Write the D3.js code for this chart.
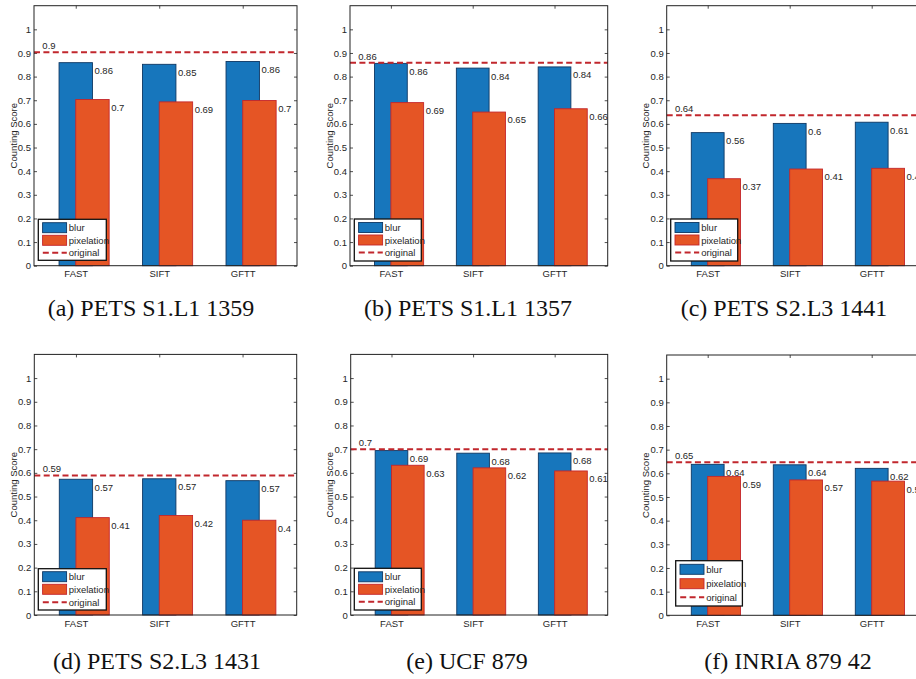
<!DOCTYPE html>
<html>
<head>
<meta charset="utf-8">
<script src="https://cdn.jsdelivr.net/npm/d3@7"></script>
<style>
  html, body { margin: 0; padding: 0; background: #fff; }
  svg { display: block; }
</style>
</head>
<body>
<div id="chart"></div>
<script>
// ---------------- DATA ----------------
const categories = ["FAST", "SIFT", "GFTT"];
const panelCaptions = [
  "(a) PETS S1.L1 1359",
  "(b) PETS S1.L1 1357",
  "(c) PETS S2.L3 1441",
  "(d) PETS S2.L3 1431",
  "(e) UCF 879",
  "(f) INRIA 879 42"
];
const blurValues = [
  [0.859, 0.852, 0.864],
  [0.856, 0.836, 0.841],
  [0.563, 0.602, 0.607],
  [0.573, 0.575, 0.567],
  [0.694, 0.683, 0.684],
  [0.638, 0.636, 0.621]
];
const pixelationValues = [
  [0.703, 0.693, 0.699],
  [0.690, 0.650, 0.664],
  [0.368, 0.409, 0.412],
  [0.411, 0.420, 0.400],
  [0.632, 0.621, 0.608],
  [0.587, 0.572, 0.567]
];
const originalValues = [0.903, 0.859, 0.637, 0.589, 0.700, 0.647];
const yTicks = [0, 0.1, 0.2, 0.3, 0.4, 0.5, 0.6, 0.7, 0.8, 0.9, 1];
const seriesNames = ["blur", "pixelation", "original"];
const yLabel = "Counting Score";

// ---------------- LAYOUT (positions only) ----------------
const W = 916, H = 679;
const panels = [
  { l: 34,    r: 297,   t: 5.7,   b: 265.7, lx: 38.3,  ly: 219.3, lw: 68, lh: 41, rows: [8.4, 21, 33.5], cx: 151, cy: 316 },
  { l: 350,   r: 607.7, t: 5.7,   b: 265.7, lx: 354.3, ly: 219,   lw: 67, lh: 42, rows: [8.5, 21, 33.5], cx: 468, cy: 316 },
  { l: 666.7, r: 925,   t: 5.7,   b: 265.7, lx: 670.7, ly: 219,   lw: 67, lh: 42, rows: [8.5, 21, 33.5], cx: 784, cy: 316 },
  { l: 34.3,  r: 296.7, t: 354.4, b: 615,   lx: 38.3,  ly: 568.7, lw: 68, lh: 41.3, rows: [8, 20.6, 33.6], cx: 157, cy: 669 },
  { l: 350.7, r: 607.7, t: 354.4, b: 615,   lx: 354.3, ly: 568.3, lw: 67, lh: 41.7, rows: [8.5, 21, 33.5], cx: 467, cy: 669 },
  { l: 666.7, r: 925,   t: 355,   b: 615.3, lx: 675.7, ly: 560.7, lw: 66.7, lh: 45.3, rows: [8.6, 23, 36.6], cx: 788, cy: 669 }
];

const BLUE = "#1776bc", BLUE_EDGE = "#0d3763";
const ORANGE = "#e55525", ORANGE_EDGE = "#c4262b";
const RED = "#c1272d";
const TXT = "#262626";
const SANS = "'Liberation Sans Narrow', 'Liberation Sans', Arial, sans-serif";
const SERIF = "'Liberation Serif', 'Times New Roman', serif";
const FS = 9.5;
const fmt = v => String(+v.toFixed(2));

const svg = d3.select("#chart").append("svg")
  .attr("width", W).attr("height", H)
  .attr("viewBox", `0 0 ${W} ${H}`);
svg.append("rect").attr("width", W).attr("height", H).attr("fill", "#fff");

panels.forEach((p, i) => {
  const x = d3.scaleLinear().domain([0.5, 3.65]).range([p.l, p.r]);
  const y = d3.scaleLinear().domain([0, 1.1]).range([p.b, p.t]);
  const g = svg.append("g");
  const barW = x(1.4) - x(1);

  const styleAxis = sel => {
    sel.select(".domain").remove();
    sel.selectAll("line").attr("stroke", "#222").attr("stroke-width", 0.8);
    sel.selectAll("text").attr("fill", TXT).style("font-family", SANS).style("font-size", FS + "px");
  };
  g.append("g").attr("transform", `translate(${p.l},0)`)
    .call(d3.axisLeft(y).tickValues(yTicks).tickFormat(d => String(d)).tickSize(-3).tickPadding(3))
    .call(styleAxis);
  g.append("g").attr("transform", `translate(${p.r},0)`)
    .call(d3.axisRight(y).tickValues(yTicks).tickFormat("").tickSize(-3))
    .call(styleAxis);
  g.append("g").attr("transform", `translate(0,${p.t})`)
    .call(d3.axisTop(x).tickValues([1, 2, 3]).tickFormat("").tickSize(-3))
    .call(styleAxis);
  g.append("g").attr("transform", `translate(0,${p.b})`)
    .call(d3.axisBottom(x).tickValues([1, 2, 3]).tickFormat(d => categories[d - 1]).tickSize(-3).tickPadding(5))
    .call(styleAxis);

  const blurData = blurValues[i].map((v, k) => ({ v, pos: k + 1 }));
  const pixData = pixelationValues[i].map((v, k) => ({ v, pos: k + 1 + 0.2 }));

  g.selectAll(".blur").data(blurData).join("rect")
    .attr("x", d => x(d.pos - 0.2)).attr("width", barW)
    .attr("y", d => y(d.v)).attr("height", d => y(0) - y(d.v))
    .attr("fill", BLUE).attr("stroke", BLUE_EDGE).attr("stroke-width", 0.9);
  g.selectAll(".blurLbl").data(blurData).join("text")
    .attr("x", d => x(d.pos + 0.2) + 2).attr("y", d => y(d.v) + 11.4)
    .attr("fill", TXT).style("font-family", SANS).style("font-size", FS + "px")
    .text(d => fmt(d.v));

  g.selectAll(".pix").data(pixData).join("rect")
    .attr("x", d => x(d.pos - 0.2)).attr("width", barW)
    .attr("y", d => y(d.v)).attr("height", d => y(0) - y(d.v))
    .attr("fill", ORANGE).attr("stroke", ORANGE_EDGE).attr("stroke-width", 0.9);
  g.selectAll(".pixLbl").data(pixData).join("text")
    .attr("x", d => x(d.pos + 0.2) + 2).attr("y", d => y(d.v) + 11.4)
    .attr("fill", TXT).style("font-family", SANS).style("font-size", FS + "px")
    .text(d => fmt(d.v));

  const ov = originalValues[i];
  g.append("line")
    .attr("x1", p.l).attr("x2", p.r).attr("y1", y(ov)).attr("y2", y(ov))
    .attr("stroke", RED).attr("stroke-width", 2).attr("stroke-dasharray", "6,3.4");
  g.append("text")
    .attr("x", x(0.6)).attr("y", y(ov) - 3)
    .attr("fill", TXT).style("font-family", SANS).style("font-size", FS + "px")
    .text(fmt(ov));

  g.append("rect")
    .attr("x", p.l).attr("y", p.t).attr("width", p.r - p.l).attr("height", p.b - p.t)
    .attr("fill", "none").attr("stroke", "#222").attr("stroke-width", 1);

  g.append("text")
    .attr("transform", `translate(${p.l - 21},${(p.t + p.b) / 2}) rotate(-90)`)
    .attr("text-anchor", "middle").attr("dominant-baseline", "central")
    .attr("fill", TXT).style("font-family", SANS).style("font-size", FS + "px")
    .text(yLabel);

  const lg = g.append("g").attr("transform", `translate(${p.lx},${p.ly})`);
  lg.append("rect").attr("width", p.lw).attr("height", p.lh)
    .attr("fill", "#fff").attr("stroke", "#111").attr("stroke-width", 1.3);
  const sw = [[BLUE, BLUE_EDGE], [ORANGE, ORANGE_EDGE]];
  sw.forEach((c, k) => {
    lg.append("rect").attr("x", 4.3).attr("y", p.rows[k] - 5).attr("width", 24).attr("height", 10)
      .attr("fill", c[0]).attr("stroke", c[1]).attr("stroke-width", 0.9);
  });
  lg.append("line").attr("x1", 4.5).attr("x2", 28.5).attr("y1", p.rows[2]).attr("y2", p.rows[2])
    .attr("stroke", RED).attr("stroke-width", 2).attr("stroke-dasharray", "6,3.4");
  seriesNames.forEach((s, k) => {
    lg.append("text").attr("x", 30.5).attr("y", p.rows[k])
      .attr("dominant-baseline", "central")
      .attr("fill", TXT).style("font-family", SANS).style("font-size", FS + "px")
      .text(s);
  });

  svg.append("text")
    .attr("x", p.cx).attr("y", p.cy)
    .attr("text-anchor", "middle")
    .attr("fill", "#111").style("font-family", SERIF).style("font-size", "24px")
    .text(panelCaptions[i]);
});
</script>
</body>
</html>
